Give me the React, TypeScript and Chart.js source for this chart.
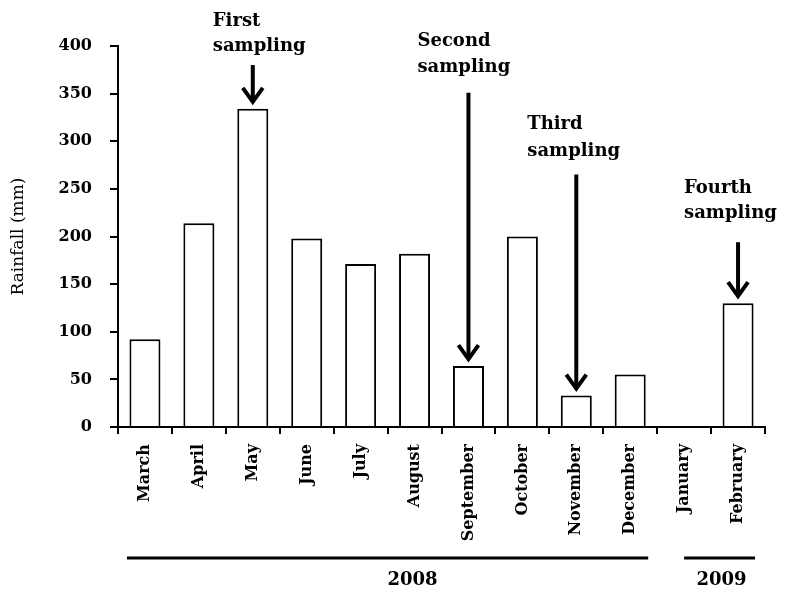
import React, { useEffect, useRef } from "react";
import { Chart, registerables } from "chart.js";

Chart.register(...registerables);

const months = ["March", "April", "May", "June", "July", "August", "September", "October", "November", "December", "January", "February"];
const rainfall = [92, 214, 334, 198, 171, 182, 64, 200, 33, 55, 0, 130];
const yTickValues = [0, 50, 100, 150, 200, 250, 300, 350, 400];
const samplingNames = [["First", "sampling"], ["Second", "sampling"], ["Third", "sampling"], ["Fourth", "sampling"]];
const samplingMonthIndex = [2, 6, 8, 11];
const arrowStartValue = [380, 351, 265, 194];
const yearLabels = ["2008", "2009"];
const yearFirstIndex = [0, 10];
const yearLastIndex = [9, 11];

// styling / placement for the annotation layer
const textDx = [-40, -51, -49, -54];
const textDy = [[-44, -19], [-51, -25], [-50, -23], [-54, -29]];

const FONT = '"DejaVu Serif", "Liberation Serif", serif';

const annotationPlugin = {
  id: "samplingAnnotations",
  afterDraw(chart: any) {
    const ctx = chart.ctx;
    const xs = chart.scales.x;
    const ys = chart.scales.y;
    ctx.save();
    ctx.fillStyle = "#000";
    ctx.strokeStyle = "#000";
    ctx.font = `bold 18px ${FONT}`;
    ctx.textAlign = "left";
    ctx.textBaseline = "middle";
    samplingNames.forEach((lines, i) => {
      const idx = samplingMonthIndex[i];
      const x = xs.getPixelForValue(idx);
      const yStart = ys.getPixelForValue(arrowStartValue[i]);
      const yTip = ys.getPixelForValue(rainfall[idx]) - 4;
      const textLeft = x + textDx[i];
      ctx.fillText(lines[0], textLeft, yStart + textDy[i][0]);
      ctx.fillText(lines[1], textLeft, yStart + textDy[i][1]);
      ctx.lineWidth = 4;
      ctx.lineCap = "butt";
      ctx.beginPath();
      ctx.moveTo(x, yStart);
      ctx.lineTo(x, yTip - 3);
      ctx.stroke();
      ctx.lineJoin = "miter";
      ctx.beginPath();
      ctx.moveTo(x - 10, yTip - 17);
      ctx.lineTo(x, yTip - 3);
      ctx.lineTo(x + 10, yTip - 17);
      ctx.stroke();
    });
    // year brackets
    const lineY = 558;
    ctx.lineWidth = 3;
    ctx.textAlign = "center";
    ctx.font = `bold 18px ${FONT}`;
    const bounds = [
      [xs.getPixelForValue(yearFirstIndex[0]) - 18, xs.getPixelForValue(yearLastIndex[0]) + 18],
      [xs.getPixelForValue(yearFirstIndex[1]), xs.getPixelForValue(yearLastIndex[1]) + 17],
    ];
    const textShift = [25, 2];
    yearLabels.forEach((lab, i) => {
      const [x0, x1] = bounds[i];
      ctx.beginPath();
      ctx.moveTo(x0, lineY);
      ctx.lineTo(x1, lineY);
      ctx.stroke();
      ctx.fillText(lab, (x0 + x1) / 2 + textShift[i], lineY + 22);
    });
    ctx.restore();
  },
};

export default function App() {
  const ref = useRef<HTMLCanvasElement | null>(null);
  useEffect(() => {
    if (!ref.current) return;
    const chart = new Chart(ref.current, {
      type: "bar",
      data: {
        labels: months,
        datasets: [
          {
            data: rainfall,
            backgroundColor: "#ffffff",
            borderColor: "#000000",
            borderWidth: 2,
            barPercentage: 0.575,
            categoryPercentage: 1,
          },
        ],
      },
      options: {
        animation: false,
        responsive: true,
        maintainAspectRatio: false,
        layout: { padding: { top: 46, right: 22, left: 0, bottom: 0 } },
        plugins: { legend: { display: false }, tooltip: { enabled: false } },
        scales: {
          x: {
            grid: { display: true, drawOnChartArea: false, offset: true, tickLength: 7, color: "#000", lineWidth: 2 },
            border: { display: true, color: "#000", width: 2 },
            ticks: {
              color: "#000",
              font: { family: FONT, size: 16, weight: "bold" },
              maxRotation: 90,
              minRotation: 90,
              padding: 10,
              autoSkip: false,
            },
            afterFit: (s: any) => {
              s.height = 165;
            },
          },
          y: {
            min: 0,
            max: 400,
            afterBuildTicks: (s: any) => {
              s.ticks = yTickValues.map((v) => ({ value: v }));
            },
            grid: { display: true, drawOnChartArea: false, tickLength: 8, color: "#000", lineWidth: 2 },
            border: { display: true, color: "#000", width: 2 },
            ticks: {
              color: "#000",
              font: { family: FONT, size: 16, weight: "bold" },
              padding: 18,
            },
            title: {
              display: true,
              text: "Rainfall (mm)",
              color: "#000",
              font: { family: FONT, size: 17, weight: "normal" },
              padding: { top: 8, bottom: 0 },
            },
            afterFit: (s: any) => {
              s.width = 118;
            },
          },
        },
      },
      plugins: [annotationPlugin],
    });
    return () => chart.destroy();
  }, []);
  return (
    <div style={{ position: "fixed", left: 0, top: 0, width: 787, height: 592, background: "#fff" }}>
      <canvas ref={ref} />
    </div>
  );
}
